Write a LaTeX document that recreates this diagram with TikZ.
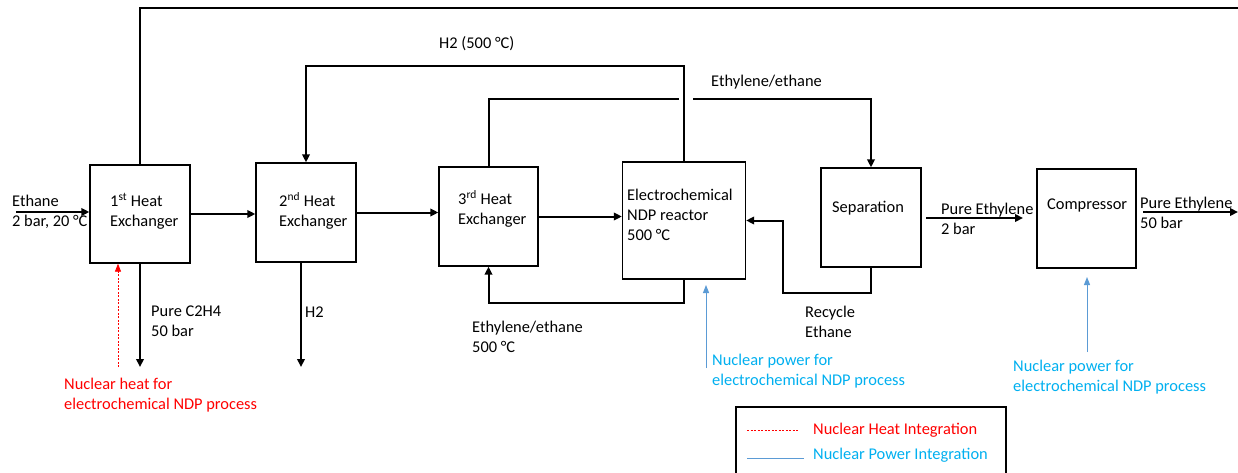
\documentclass[tikz,border=0pt]{standalone}
\usepackage{fontspec}
\setmainfont{Carlito}
\usetikzlibrary{arrows.meta}
\definecolor{nred}{HTML}{FF0000}
\definecolor{ntxt}{HTML}{00B0F0}
\definecolor{nline}{HTML}{5B9BD5}
\begin{document}
\begin{tikzpicture}[x=1pt,y=-1pt,
  box/.style={draw,line width=1.3pt,minimum width=#1,inner sep=0pt},
  box/.default=100pt,
  lbl/.style={anchor=west,inner sep=0pt,align=left,font=\fontsize{16.4}{19.8}\selectfont},
  flow/.style={line width=2pt,-{Triangle[length=8pt,width=7.5pt]}},
  plain/.style={line width=2pt},
  heat/.style={nred,line width=0.8pt,dash pattern=on 2pt off 1.5pt,-{Triangle[length=8pt,width=6pt]}},
  power/.style={nline,line width=1pt,-{Triangle[length=8pt,width=6pt]}}]
\useasboundingbox (0,0) rectangle (1238,473);
\clip (0,0) rectangle (1238,473);
\fill[white] (0,0) rectangle (1238,473);
% boxes
\node[box=100pt,minimum height=98pt] (hx1) at (140,214) {};
\node[box=100pt,minimum height=99pt] (hx2) at (306,212.5) {};
\node[box=99pt,minimum height=99pt] (hx3) at (488.5,216.5) {};
\node[box=123pt,minimum height=117pt] (reac) at (684,220.5) {};
\node[box=100pt,minimum height=99pt] (sep) at (871,217.5) {};
\node[box=99pt,minimum height=99pt] (comp) at (1086.5,218.5) {};
% box texts
\node[lbl] (t1) at (110,211) {1\textsuperscript{st} Heat\\Exchanger};
\node[lbl] (t2) at (279,211) {2\textsuperscript{nd} Heat\\Exchanger};
\node[lbl] (t3) at (458,209) {3\textsuperscript{rd} Heat\\Exchanger};
\node[lbl] (t4) at (627,215) {Electrochemical\\NDP reactor\\500 °C};
\node[lbl] (t5) at (832,208) {Separation};
\node[lbl] (t6) at (1047,205) {Compressor};
% coordinates
\coordinate (ethin) at (16,212);
\coordinate (topr) at (1238,8);
\coordinate (h2top) at (306,66);
\coordinate (g1) at (679,99);
\coordinate (g2) at (693,99);
\coordinate (c2h4) at (140,367);
\coordinate (h2out) at (301,367);
\coordinate (ret) at (684,303);
\coordinate (rc) at (783,293);
\coordinate (heatsrc) at (118,367);
\coordinate (pw1) at (706,368);
\coordinate (pw2) at (1087,352);
\coordinate (out2) at (1238,212);
\coordinate (s1) at (926,218);
\coordinate (s2) at (1023,218);
% main flows
\draw[flow] (ethin) -- (ethin -| hx1.west);
\draw[flow] (hx1.east) -- (hx1.east -| hx2.west);
\draw[flow] (hx2.east) -- (hx2.east -| hx3.west);
\draw[flow] (hx3.east) -- (hx3.east -| reac.west);
\draw[plain] (hx1.north) |- (topr);
\draw[flow] (reac.north) |- (h2top) -- (hx2.north);
\draw[plain] (hx3.north) |- (g1);
\draw[flow] (g2) -| (sep.north);
\draw[flow] (hx1.south) -- (c2h4);
\draw[flow] (h2out |- hx2.south) -- (h2out);
\draw[flow] (reac.south) -- (ret) -| (hx3.south);
\draw[flow] (sep.south) |- (rc) |- (reac.east);
\draw[flow] (s1) -- (s2);
\draw[flow] (out2 -| 1143,0) -- (out2);
% nuclear integration
\draw[heat] (heatsrc) -- (heatsrc |- hx1.south);
\draw[power] (pw1) -- (pw1 |- 0,285);
\draw[power] (pw2) -- (pw2 |- 0,277);
% labels
\node[lbl] (l1) at (12,211.5) {Ethane\\2 bar, 20 °C};
\node[lbl] (l2) at (439,44) {H2 (500 °C)};
\node[lbl] (l3) at (711,82) {Ethylene/ethane};
\node[lbl] (l4) at (151,321.5) {Pure C2H4\\50 bar};
\node[lbl] (l5) at (305,312) {H2};
\node[lbl] (l6) at (472,337) {Ethylene/ethane\\500 °C};
\node[lbl] (l7) at (805,321.5) {Recycle\\Ethane};
\node[lbl] (l8) at (941,219) {Pure Ethylene\\2 bar};
\node[lbl] (l9) at (1140,212.5) {Pure Ethylene\\50 bar};
\node[lbl,text=nred] (l10) at (64,395.5) {Nuclear heat for\\electrochemical NDP process};
\node[lbl,text=ntxt] (l11) at (712,371) {Nuclear power for\\electrochemical NDP process};
\node[lbl,text=ntxt] (l12) at (1013,377) {Nuclear power for\\electrochemical NDP process};
% legend
\node[draw,line width=1.3pt,minimum width=270pt,minimum height=80pt,inner sep=0pt] (leg) at (871,447) {};
\coordinate (la1) at (747,430);
\coordinate (la2) at (798,430);
\coordinate (lb1) at (747,458);
\coordinate (lb2) at (804,458);
\draw[nred,line width=0.8pt,dash pattern=on 2pt off 1.5pt] (la1) -- (la2);
\draw[nline,line width=1pt] (lb1) -- (lb2);
\node[lbl,text=nred] (lt1) at (813,430) {Nuclear Heat Integration};
\node[lbl,text=ntxt] (lt2) at (813,455) {Nuclear Power Integration};
\end{tikzpicture}
\end{document}
